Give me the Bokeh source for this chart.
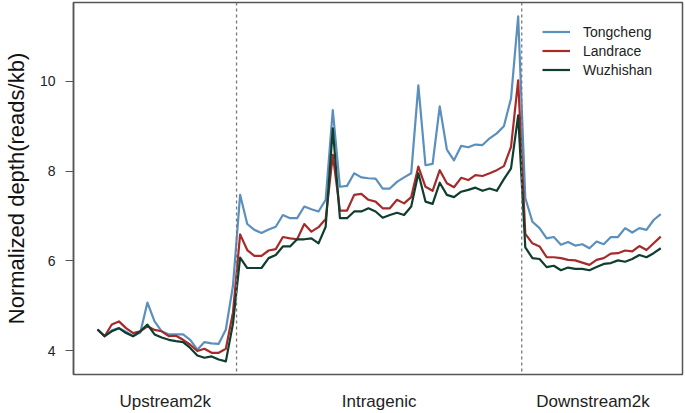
from bokeh.plotting import figure
from bokeh.models import Span, Legend, LegendItem, FixedTicker, Range1d
from bokeh.embed import file_html
from bokeh.resources import INLINE

regions = ["Upstream2k", "Intragenic", "Downstream2k"]
region_bins = [20, 40, 20]
y_ticks = [4, 6, 8, 10]

tongcheng = [4.47, 4.32, 4.45, 4.50, 4.42, 4.32, 4.40, 5.07, 4.65, 4.43,
             4.36, 4.36, 4.36, 4.24, 4.02, 4.19, 4.16, 4.15, 4.47, 5.45,
             7.47, 6.82, 6.69, 6.62, 6.70, 6.76, 7.02, 6.95, 6.95, 7.21,
             7.15, 7.10, 7.36, 9.36, 7.65, 7.67, 7.95, 7.86, 7.84, 7.83,
             7.61, 7.61, 7.76, 7.86, 7.95, 9.91, 8.13, 8.16, 9.44, 8.48,
             8.24, 8.56, 8.53, 8.59, 8.58, 8.73, 8.84, 9.00, 9.62, 11.45,
             7.40, 6.87, 6.73, 6.50, 6.53, 6.36, 6.42, 6.34, 6.37, 6.28,
             6.43, 6.37, 6.53, 6.53, 6.73, 6.63, 6.73, 6.69, 6.91, 7.04]

landrace = [4.47, 4.32, 4.58, 4.65, 4.50, 4.39, 4.43, 4.54, 4.46, 4.43,
            4.32, 4.33, 4.24, 4.13, 3.99, 4.04, 3.95, 3.95, 4.04, 4.85,
            6.59, 6.24, 6.11, 6.11, 6.23, 6.26, 6.53, 6.50, 6.48, 6.82,
            6.65, 6.75, 6.93, 8.36, 7.12, 7.12, 7.47, 7.49, 7.36, 7.32,
            7.17, 7.17, 7.36, 7.28, 7.42, 8.10, 7.65, 7.56, 8.02, 7.73,
            7.64, 7.85, 7.80, 7.91, 7.89, 7.95, 8.02, 8.11, 8.54, 10.02,
            6.60, 6.39, 6.32, 6.08, 6.08, 6.06, 6.02, 6.01, 5.96, 5.91,
            6.02, 6.06, 6.16, 6.17, 6.23, 6.21, 6.33, 6.24, 6.39, 6.54]

wuzhishan = [4.47, 4.32, 4.43, 4.50, 4.39, 4.32, 4.43, 4.58, 4.36, 4.29,
             4.24, 4.21, 4.19, 4.06, 3.89, 3.84, 3.87, 3.80, 3.76, 4.60,
             6.07, 5.84, 5.84, 5.84, 6.06, 6.13, 6.32, 6.32, 6.48, 6.48,
             6.50, 6.39, 6.76, 8.95, 6.95, 6.95, 7.10, 7.10, 7.17, 7.10,
             6.96, 7.02, 7.07, 7.02, 7.21, 7.95, 7.32, 7.27, 7.74, 7.47,
             7.42, 7.54, 7.58, 7.63, 7.56, 7.61, 7.56, 7.82, 8.06, 9.24,
             6.30, 6.06, 6.04, 5.86, 5.89, 5.79, 5.85, 5.82, 5.82, 5.79,
             5.86, 5.93, 5.95, 6.01, 5.98, 6.04, 6.13, 6.08, 6.17, 6.28]

series_names = ["Tongcheng", "Landrace", "Wuzhishan"]
series_values = [tongcheng, landrace, wuzhishan]
series_colors = ["#5b8fbd", "#a62a2a", "#0f3d2e"]

n = sum(region_bins)
x = list(range(n))
FONT = "Liberation Sans"

p = figure(width=685, height=413, output_backend="svg", toolbar_location=None,
           x_range=Range1d(-3.37, 82.05), y_range=Range1d(3.467, 11.756),
           min_border_left=73, min_border_right=3, min_border_top=2,
           min_border_bottom=38)

p.xgrid.visible = False
p.ygrid.visible = False
p.outline_line_color = "#555555"
p.outline_line_width = 1.5
p.outline_line_alpha = 1.0

# y axis
ax = p.yaxis[0]
ax.ticker = FixedTicker(ticks=y_ticks)
ax.major_tick_out = 8
ax.major_tick_in = 0
ax.minor_tick_out = 0
ax.minor_tick_in = 0
ax.major_tick_line_color = "#555555"
ax.major_tick_line_width = 1.2
ax.axis_line_color = "#555555"
ax.axis_line_width = 1.5
ax.major_label_standoff = 10
ax.major_label_text_font = FONT
ax.major_label_text_font_size = "14px"
ax.major_label_text_color = "#222222"
ax.axis_label = "Normalized depth(reads/kb)"
ax.axis_label_text_font = FONT
ax.axis_label_text_font_size = "22px"
ax.axis_label_text_font_style = "normal"
ax.axis_label_text_color = "#111111"
ax.axis_label_standoff = 8

# region labels on x axis
centers = []
start = 0
for b in region_bins:
    centers.append(start + (b - 1) / 2)
    start += b
xa = p.xaxis[0]
xa.ticker = FixedTicker(ticks=centers)
xa.major_label_overrides = {c: name for c, name in zip(centers, regions)}
xa.axis_line_color = None
xa.major_tick_line_color = None
xa.minor_tick_line_color = None
xa.major_tick_out = 0
xa.major_tick_in = 0
xa.major_label_standoff = 17
xa.major_label_text_font = FONT
xa.major_label_text_font_size = "17px"
xa.major_label_text_color = "#222222"

# region separators
edges = []
acc = 0
for b in region_bins[:-1]:
    acc += b
    edges.append(acc - 0.5)
for e in edges:
    p.add_layout(Span(location=e, dimension="height", line_color="#777777",
                      line_width=1.3, line_dash="3 3"))

items = []
for name, vals, col in zip(series_names, series_values, series_colors):
    r = p.line(x, vals, line_color=col, line_width=2.2, line_join="round")
    items.append(LegendItem(label=name, renderers=[r]))

legend = Legend(items=items, location=(469, 295))
legend.border_line_color = None
legend.background_fill_alpha = 0
legend.padding = 0
legend.margin = 0
legend.spacing = 0
legend.glyph_width = 28
legend.glyph_height = 19
legend.label_height = 19
legend.label_standoff = 13
legend.label_text_font = FONT
legend.label_text_font_size = "14px"
legend.label_text_color = "#222222"
p.add_layout(legend)

open("out.html", "w").write(file_html(p, INLINE))
